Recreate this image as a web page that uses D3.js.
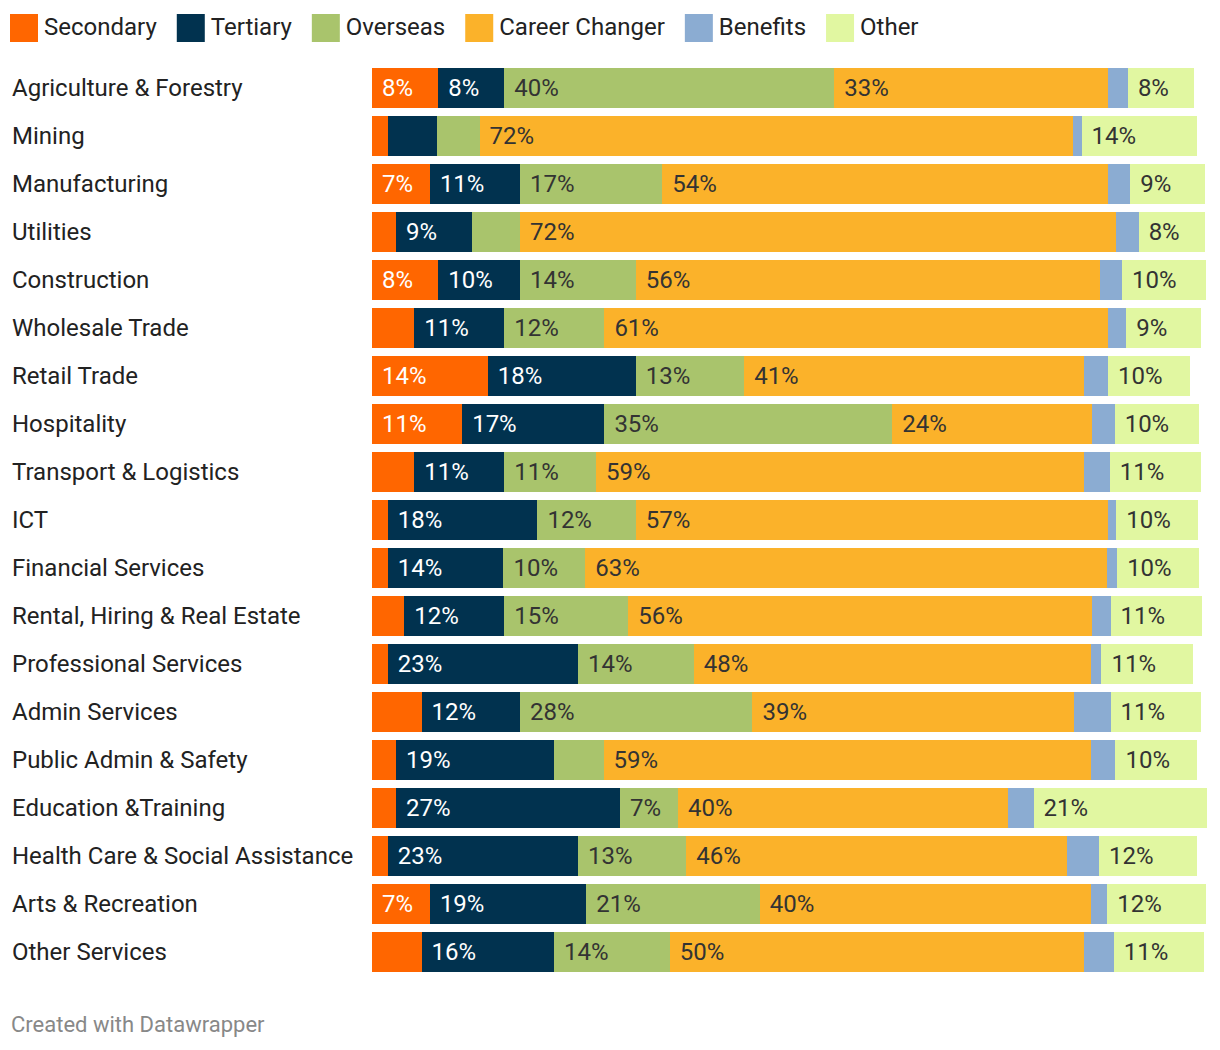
<!DOCTYPE html>
<html>
<head>
<meta charset="utf-8">
<script src="https://cdn.jsdelivr.net/npm/d3@7"></script>
<style>
  html, body { margin: 0; padding: 0; background: #fff; }
  svg { display: block; font-family: Roboto, "Noto Sans", sans-serif; }
</style>
</head>
<body>
<svg id="chart" width="1220" height="1050"></svg>
<script>
const categories = [
  "Agriculture & Forestry", "Mining", "Manufacturing", "Utilities", "Construction",
  "Wholesale Trade", "Retail Trade", "Hospitality", "Transport & Logistics", "ICT",
  "Financial Services", "Rental, Hiring & Real Estate", "Professional Services",
  "Admin Services", "Public Admin & Safety", "Education &Training",
  "Health Care & Social Assistance", "Arts & Recreation", "Other Services"
];
const seriesNames = ["Secondary", "Tertiary", "Overseas", "Career Changer", "Benefits", "Other"];
const secondary     = [8.0, 1.9, 7.0, 2.9, 8.0, 5.1, 14.0, 10.9, 5.1, 1.9, 1.9, 3.9, 1.9, 6.0, 2.9, 2.9, 1.9, 7.0, 6.0];
const tertiary      = [8.0, 6.0, 10.9, 9.2, 9.9, 10.9, 17.9, 17.2, 10.9, 18.1, 14.0, 12.1, 23.0, 11.9, 19.1, 27.1, 23.0, 18.9, 16.0];
const overseas      = [39.9, 5.1, 17.2, 5.8, 14.0, 12.1, 13.1, 34.8, 11.1, 11.9, 9.9, 15.0, 14.0, 28.1, 6.0, 7.0, 13.1, 21.0, 14.0];
const careerChanger = [33.1, 71.8, 53.9, 72.1, 56.1, 60.9, 41.1, 24.2, 59.0, 57.1, 63.1, 56.1, 48.1, 38.9, 59.0, 39.9, 46.0, 40.1, 50.1];
const benefits      = [2.4, 1.0, 2.7, 2.7, 2.7, 2.2, 2.9, 2.7, 3.1, 1.0, 1.2, 2.2, 1.2, 4.4, 2.9, 3.1, 3.9, 1.9, 3.6];
const other         = [8.0, 14.0, 9.0, 8.0, 10.2, 9.0, 9.9, 10.2, 11.1, 9.9, 9.9, 11.1, 11.1, 10.9, 9.9, 21.0, 11.9, 11.9, 10.9];
const colors = ["#ff6600", "#01324f", "#a9c46c", "#fbb22a", "#8bacd2", "#e1f7a1"];
const labelColors = ["#ffffff", "#ffffff", "#333333", "#333333", "#333333", "#333333"];

const seriesValues = [secondary, tertiary, overseas, careerChanger, benefits, other];
const rows = categories.map((c, i) => {
  const o = { category: c };
  seriesNames.forEach((s, j) => { o[s] = seriesValues[j][i]; });
  return o;
});

const svg = d3.select("#chart");
const x = d3.scaleLinear().domain([0, 100]).range([372, 1199]);
const y = d3.scaleBand().domain(categories).range([64, 976]).paddingInner(1/6).paddingOuter(1/12);

const stack = d3.stack().keys(seriesNames);
const stacked = stack(rows);

// Legend
const legend = svg.append("g");
let lx = 10;
seriesNames.forEach((s, i) => {
  const g = legend.append("g").attr("transform", `translate(${lx},14)`);
  g.append("rect").attr("width", 28).attr("height", 28).attr("fill", colors[i]);
  const t = g.append("text").attr("x", 34).attr("y", 21).attr("font-size", 24).attr("fill", "#222").text(s);
  lx += 34 + t.node().getComputedTextLength() + 20;
});

// Category labels
svg.append("g").selectAll("text").data(categories).join("text")
  .attr("x", 12)
  .attr("y", d => y(d) + y.bandwidth() / 2)
  .attr("dy", "0.32em")
  .attr("font-size", 24)
  .attr("fill", "#222")
  .text(d => d);

// Bars
const layers = svg.append("g").selectAll("g").data(stacked).join("g")
  .attr("fill", (d, i) => colors[i]);
layers.selectAll("rect").data(d => d.map(v => ({ v, cat: v.data.category }))).join("rect")
  .attr("x", d => x(d.v[0]))
  .attr("y", d => y(d.cat))
  .attr("width", d => x(d.v[1]) - x(d.v[0]))
  .attr("height", y.bandwidth())
  .attr("shape-rendering", "crispEdges");

// Value labels
const lbl = svg.append("g");
stacked.forEach((layer, i) => {
  lbl.selectAll(null).data(layer.filter(v => (v[1] - v[0]) >= 6.5)).join("text")
    .attr("x", d => x(d[0]) + 10)
    .attr("y", d => y(d.data.category) + y.bandwidth() / 2)
    .attr("dy", "0.32em")
    .attr("font-size", 24)
    .attr("fill", labelColors[i])
    .text(d => Math.round(d[1] - d[0]) + "%");
});

// Footer
svg.append("text").attr("x", 11).attr("y", 1032).attr("font-size", 22).attr("fill", "#888").text("Created with Datawrapper");
</script>
</body>
</html>
